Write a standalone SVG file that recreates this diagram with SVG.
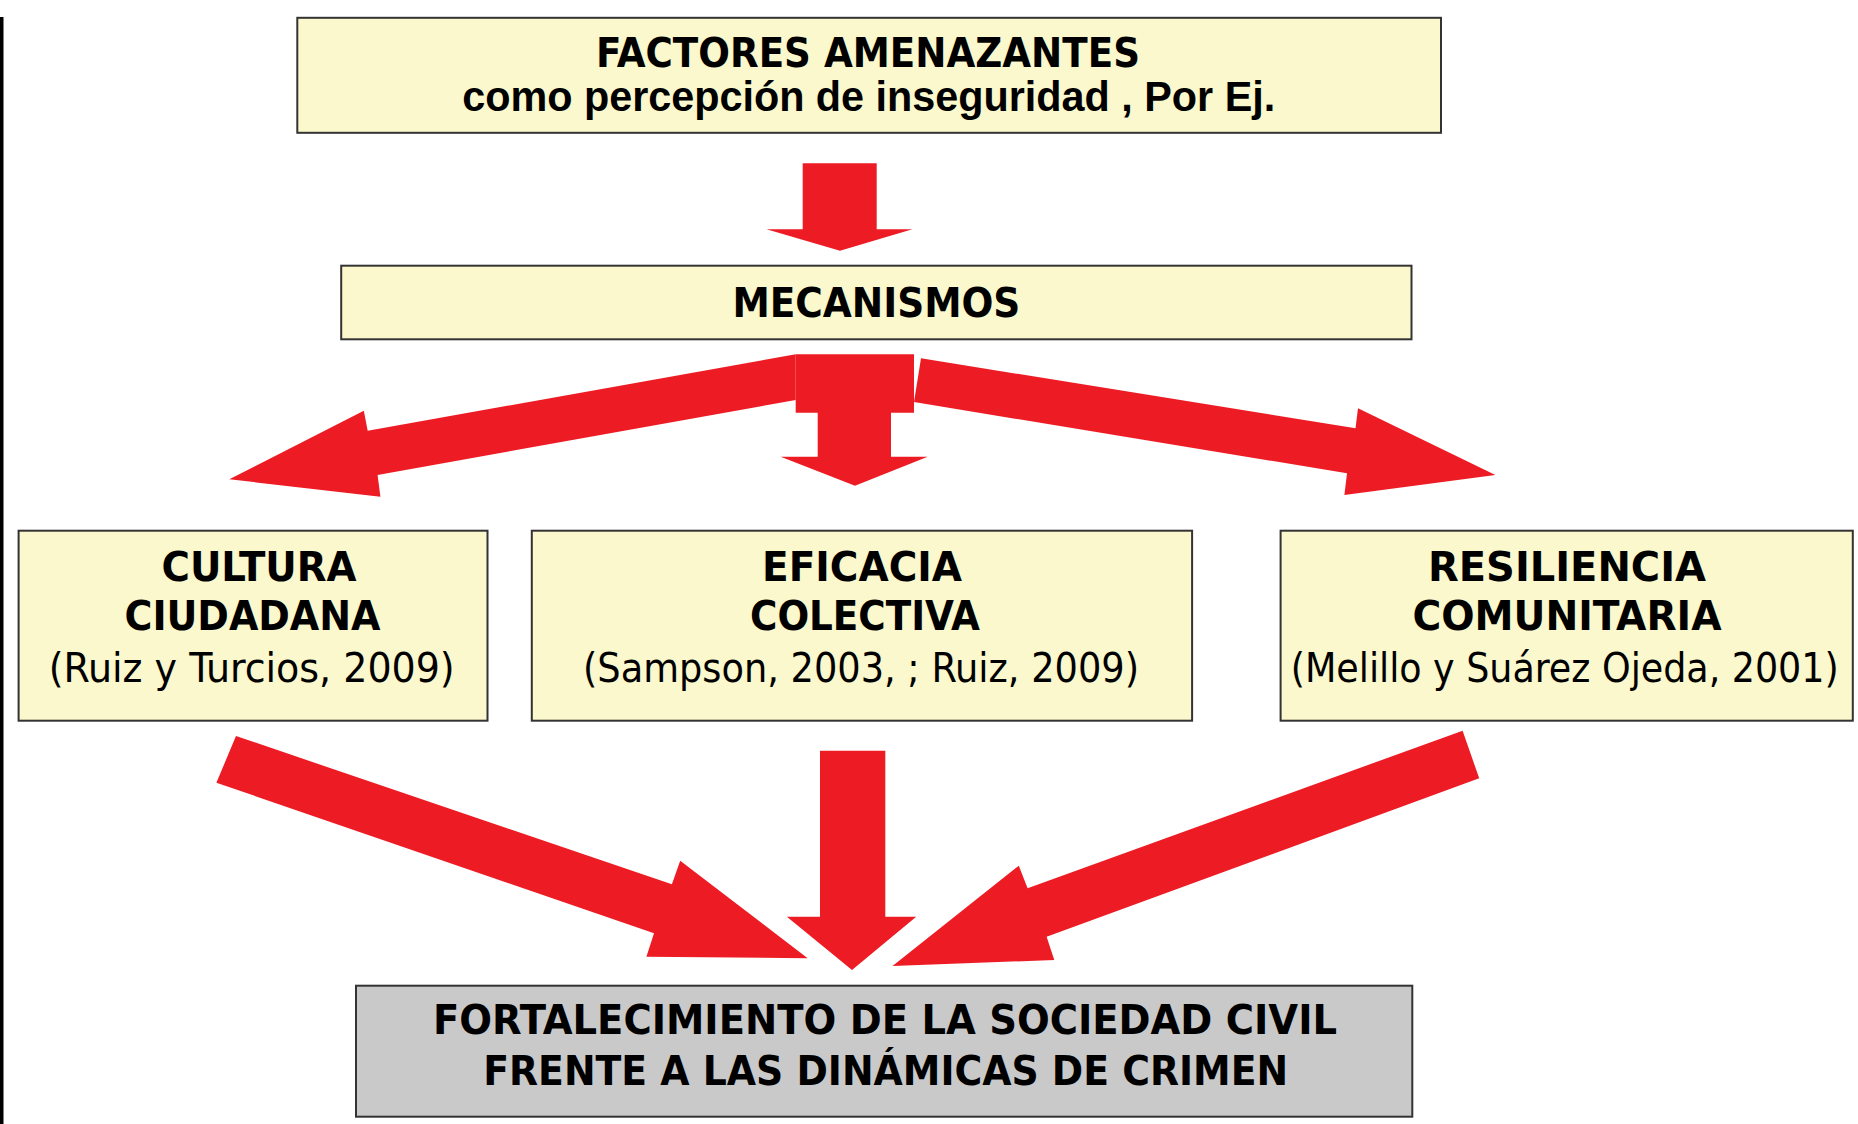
<svg xmlns="http://www.w3.org/2000/svg" width="1858" height="1124" viewBox="0 0 1858 1124">
<style>
.box{fill:#FAF8CC;stroke:#333;stroke-width:2}
.gbox{fill:#C9C9C9;stroke:#333;stroke-width:2}
.arr{fill:#ED1C24}
.h{font-family:"DejaVu Sans Condensed","DejaVu Sans",sans-serif;font-weight:bold;font-size:41px;text-anchor:middle;fill:#000}
.c{font-family:"DejaVu Sans Condensed","DejaVu Sans",sans-serif;font-weight:normal;font-size:40px;text-anchor:middle;fill:#000}
.a{font-family:"Liberation Sans",Arial,sans-serif;font-weight:bold;font-size:42px;text-anchor:middle;fill:#000}
</style>
<rect x="0" y="0" width="1858" height="1124" fill="#fff"/>
<rect x="0" y="17" width="3.5" height="1107" fill="#000"/>
<g id="connectors">
<polygon class="arr" points="802.7,163.3 876.7,163.3 876.7,229.3 912.4,229.3 840,250.7 766.5,229.3 802.7,229.3"/>
<polygon class="arr" points="795.7,354.3 367.7,430.7 363.8,410.7 229.3,479.3 380.4,496.7 377.6,475 795.7,400"/>
<polygon class="arr" points="795.7,354.3 914,354.3 914,412.7 891,412.7 891,456.7 927.7,456.7 855,485.7 780.7,456.7 817.7,456.7 817.7,412.7 795.7,412.7"/>
<polygon class="arr" points="921,358.3 1355.5,428.3 1358,408.3 1495.4,475 1344.4,495 1347,473.3 914,402"/>
<polygon class="arr" points="236,736 671.9,884.3 680.2,860.7 807.7,958.3 646.4,956.7 654,933.3 216.4,782.7"/>
<polygon class="arr" points="820,750.7 885.3,750.7 885.3,916.7 916.2,916.7 852,970 786.9,916.7 820,916.7"/>
<polygon class="arr" points="1462.6,730.7 1027.6,888.3 1018.8,865.7 892.5,966 1054.3,960 1046.6,936.7 1479.2,778.3"/>
</g>
<g id="factores">
<rect class="box" x="297.3" y="17.8" width="1143.7" height="115"/>
<text class="h" x="868" y="66.5" textLength="544" lengthAdjust="spacingAndGlyphs">FACTORES AMENAZANTES</text>
<text class="a" x="868.7" y="111" textLength="813" lengthAdjust="spacingAndGlyphs">como percepción de inseguridad , Por Ej.</text>
</g>
<g id="mecanismos">
<rect class="box" x="341.2" y="265.7" width="1070.3" height="73.6"/>
<text class="h" x="876.4" y="317" textLength="288" lengthAdjust="spacingAndGlyphs">MECANISMOS</text>
</g>
<g id="cultura">
<rect class="box" x="18.6" y="530.7" width="468.9" height="190"/>
<text class="h" x="259" y="581" textLength="195" lengthAdjust="spacingAndGlyphs">CULTURA</text>
<text class="h" x="252.5" y="630" textLength="256" lengthAdjust="spacingAndGlyphs">CIUDADANA</text>
<text class="c" x="251.7" y="682" textLength="406" lengthAdjust="spacingAndGlyphs">(Ruiz y Turcios, 2009)</text>
</g>
<g id="eficacia">
<rect class="box" x="531.8" y="530.7" width="660.3" height="190"/>
<text class="h" x="862" y="581" textLength="200" lengthAdjust="spacingAndGlyphs">EFICACIA</text>
<text class="h" x="865" y="630" textLength="230" lengthAdjust="spacingAndGlyphs">COLECTIVA</text>
<text class="c" x="861" y="682" textLength="556" lengthAdjust="spacingAndGlyphs">(Sampson, 2003, ; Ruiz, 2009)</text>
</g>
<g id="resiliencia">
<rect class="box" x="1280.6" y="530.7" width="572.2" height="190"/>
<text class="h" x="1567" y="581" textLength="278" lengthAdjust="spacingAndGlyphs">RESILIENCIA</text>
<text class="h" x="1567" y="630" textLength="309" lengthAdjust="spacingAndGlyphs">COMUNITARIA</text>
<text class="c" x="1564.7" y="682" textLength="548" lengthAdjust="spacingAndGlyphs">(Melillo y Suárez Ojeda, 2001)</text>
</g>
<g id="fortalecimiento">
<rect class="gbox" x="356" y="985.7" width="1056.3" height="131"/>
<text class="h" x="885" y="1034" textLength="904" lengthAdjust="spacingAndGlyphs">FORTALECIMIENTO DE LA SOCIEDAD CIVIL</text>
<text class="h" x="885.7" y="1085" textLength="805" lengthAdjust="spacingAndGlyphs">FRENTE A LAS DINÁMICAS DE CRIMEN</text>
</g>
</svg>
